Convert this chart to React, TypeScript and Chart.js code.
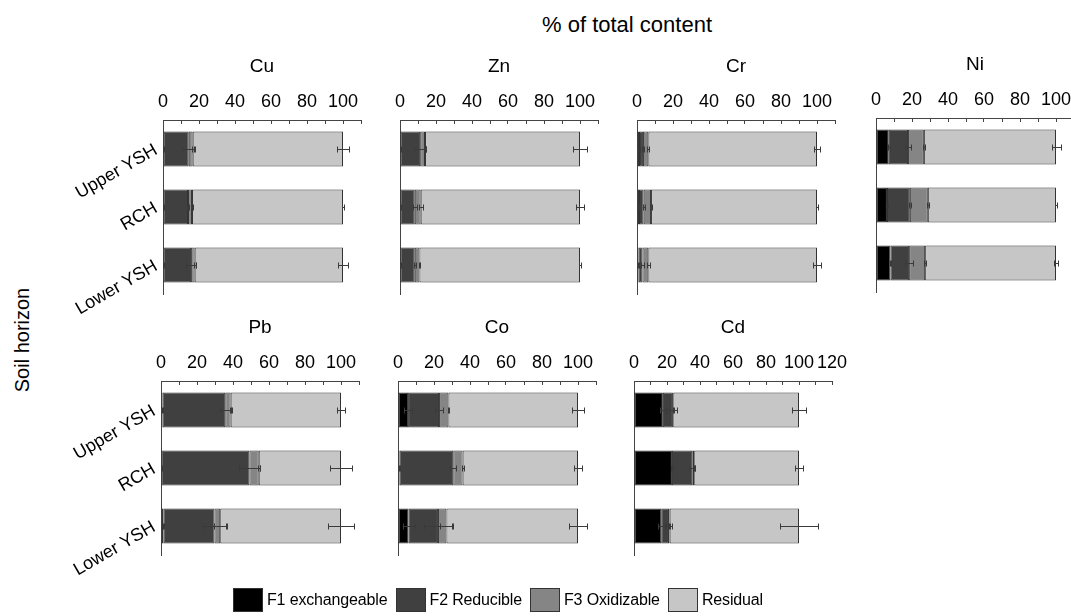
import React, { useEffect, useRef } from "react";
import { Chart, registerables } from "chart.js";

Chart.register(...registerables);

// ---------------- DATA ----------------
const horizons = ["Upper YSH", "RCH", "Lower YSH"];
const fractionLabels = ["F1 exchangeable", "F2 Reducible", "F3 Oxidizable", "Residual"];
const fractionColors = ["#000000", "#404040", "#858585", "#c6c6c6"];

const ticks0to100 = [0, 20, 40, 60, 80, 100];
const ticks0to120 = [0, 20, 40, 60, 80, 100, 120];

// each array: [F1, F2, F3, Residual], each over horizons [Upper YSH, RCH, Lower YSH]
const cuValues = [[0.3, 0.2, 0.3], [14.0, 13.7, 15.3], [2.2, 2.2, 2.0], [83.5, 83.9, 82.4]];
const cuErrors = [[0.2, 0.1, 0.2], [3.5, 0.6, 3.0], [0.6, 0.3, 0.5], [3.5, 0.5, 3.0]];

const znValues = [[0.2, 0.2, 0.2], [11.0, 8.0, 8.0], [2.7, 3.3, 2.6], [86.1, 88.5, 89.2]];
const znErrors = [[0.1, 0.1, 0.1], [3.5, 1.0, 0.5], [0.5, 1.2, 0.3], [4.0, 2.3, 0.5]];

const crValues = [[1.1, 1.1, 0.9], [2.2, 2.6, 2.1], [3.0, 4.1, 3.3], [93.7, 92.2, 93.7]];
const crErrors = [[0.3, 0.2, 0.3], [0.5, 0.5, 1.0], [0.5, 0.4, 1.0], [1.5, 0.5, 2.2]];

const niValues = [[7.1, 6.1, 8.0], [10.7, 12.7, 10.4], [8.8, 10.0, 8.9], [73.4, 71.2, 72.7]];
const niErrors = [[0.5, 0.4, 0.5], [1.9, 0.4, 2.1], [0.5, 0.6, 0.4], [2.5, 0.5, 1.0]];

const pbValues = [[0.9, 0.2, 1.3], [34.8, 48.9, 28.4], [3.0, 5.2, 3.2], [61.3, 45.7, 67.1]];
const pbErrors = [[0.3, 0.1, 0.4], [3.0, 6.0, 6.5], [0.6, 0.5, 3.5], [2.3, 6.2, 7.0]];

const coValues = [[5.6, 0.9, 5.9], [17.2, 29.8, 16.3], [5.2, 5.2, 4.7], [72.0, 64.1, 73.1]];
const coErrors = [[2.0, 0.2, 3.3], [2.4, 1.7, 8.0], [0.5, 0.5, 3.5], [3.4, 2.0, 4.9]];

const cdValues = [[17.5, 23.0, 16.5], [6.1, 12.3, 4.7], [0.2, 1.2, 0.4], [76.2, 63.5, 78.4]];
const cdErrors = [[2.0, 0.5, 2.0], [2.3, 1.8, 1.8], [0.2, 0.3, 0.3], [4.0, 2.4, 11.6]];

// ---------------- LAYOUT ----------------
const FONT = '"Liberation Sans", Arial, Helvetica, sans-serif';
const PLOT_W = 198;
const PLOT_H = 174;
const X_AXIS_H = 65;
const PAD_RIGHT = 30;
const PAD_BOTTOM = 45;

type PanelDef = {
  name: string;
  values: number[][];
  errors: number[][];
  max: number;
  tickLabels: number[];
  plotLeft: number;
  axisY: number;
  showY: boolean;
};

const panels: PanelDef[] = [
  { name: "Cu", values: cuValues, errors: cuErrors, max: 110, tickLabels: ticks0to100, plotLeft: 163, axisY: 120, showY: true },
  { name: "Zn", values: znValues, errors: znErrors, max: 110, tickLabels: ticks0to100, plotLeft: 400, axisY: 120, showY: false },
  { name: "Cr", values: crValues, errors: crErrors, max: 110, tickLabels: ticks0to100, plotLeft: 637, axisY: 120, showY: false },
  { name: "Ni", values: niValues, errors: niErrors, max: 110, tickLabels: ticks0to100, plotLeft: 876, axisY: 118, showY: false },
  { name: "Pb", values: pbValues, errors: pbErrors, max: 110, tickLabels: ticks0to100, plotLeft: 161, axisY: 381, showY: true },
  { name: "Co", values: coValues, errors: coErrors, max: 110, tickLabels: ticks0to100, plotLeft: 398, axisY: 381, showY: false },
  { name: "Cd", values: cdValues, errors: cdErrors, max: 120, tickLabels: ticks0to120, plotLeft: 634, axisY: 381, showY: false },
];

function makeErrorBarPlugin(errors: number[][]) {
  return {
    id: "errorBars",
    afterDatasetsDraw(chart: any) {
      const { ctx } = chart;
      const xs = chart.scales.x;
      const ys = chart.scales.y;
      const datasets = chart.data.datasets;
      ctx.save();
      ctx.strokeStyle = "#3a3a3a";
      ctx.lineWidth = 1;
      const cap = 3;
      for (let j = 0; j < horizons.length; j++) {
        let cum = 0;
        for (let i = 0; i < datasets.length; i++) {
          cum += datasets[i].data[j] as number;
          const e = errors[i][j];
          const yc = Math.round(ys.getPixelForValue(j)) + 0.5;
          const x1 = Math.round(xs.getPixelForValue(cum - e)) + 0.5;
          const x2 = Math.round(xs.getPixelForValue(cum + e)) + 0.5;
          ctx.beginPath();
          ctx.moveTo(x1, yc);
          ctx.lineTo(x2, yc);
          ctx.moveTo(x1, yc - cap);
          ctx.lineTo(x1, yc + cap);
          ctx.moveTo(x2, yc - cap);
          ctx.lineTo(x2, yc + cap);
          ctx.stroke();
        }
      }
      ctx.restore();
    },
  };
}

function Panel({ p }: { p: PanelDef }) {
  const ref = useRef<HTMLCanvasElement | null>(null);
  const yW = p.showY ? 110 : 20;
  const width = yW + PLOT_W + PAD_RIGHT;
  const height = X_AXIS_H + PLOT_H + PAD_BOTTOM;

  useEffect(() => {
    if (!ref.current) return;
    const chart = new Chart(ref.current, {
      type: "bar",
      data: {
        labels: horizons,
        datasets: fractionLabels.map((lab, i) => ({
          label: lab,
          data: p.values[i],
          backgroundColor: fractionColors[i],
          borderColor: "#333333",
          borderWidth: 1,
          borderSkipped: false,
          barPercentage: 0.6,
          categoryPercentage: 1,
        })),
      },
      options: {
        indexAxis: "y",
        responsive: false,
        animation: false,
        devicePixelRatio: 1,
        layout: { padding: { left: 0, top: 0, right: PAD_RIGHT, bottom: PAD_BOTTOM } },
        plugins: {
          legend: { display: false },
          tooltip: { enabled: false },
          title: { display: false },
        },
        scales: {
          x: {
            type: "linear",
            position: "top",
            stacked: true,
            min: 0,
            max: p.max,
            ticks: {
              stepSize: 10,
              autoSkip: false,
              maxRotation: 0,
              minRotation: 0,
              padding: 11,
              color: "#000",
              font: { family: FONT, size: 18 },
              callback: (v: any) => (p.tickLabels.includes(Number(v)) ? String(v) : ""),
            },
            grid: {
              drawOnChartArea: false,
              drawTicks: true,
              tickLength: -4,
              color: "#444",
              lineWidth: 1,
            },
            border: { display: true, color: "#444", width: 1 },
            title: {
              display: true,
              text: p.name,
              color: "#000",
              font: { family: FONT, size: 19 },
              padding: { top: 0, bottom: 0 },
            },
            afterFit: (s: any) => {
              s.height = X_AXIS_H;
            },
          },
          y: {
            type: "category",
            position: "left",
            stacked: true,
            offset: true,
            ticks: {
              display: p.showY,
              minRotation: 30,
              maxRotation: 30,
              padding: 7,
              color: "#000",
              font: { family: FONT, size: 18 },
            },
            grid: { display: true, drawOnChartArea: false, drawTicks: false },
            border: { display: true, color: "#444", width: 1 },
            afterFit: (s: any) => {
              s.width = yW;
            },
          },
        },
      } as any,
      plugins: [makeErrorBarPlugin(p.errors)],
    });
    return () => chart.destroy();
  }, []);

  return (
    <canvas
      ref={ref}
      width={width}
      height={height}
      style={{
        position: "absolute",
        left: p.plotLeft - yW,
        top: p.axisY - X_AXIS_H,
        width,
        height,
      }}
    />
  );
}

export default function App() {
  return (
    <div
      style={{
        position: "absolute",
        left: 0,
        top: 0,
        width: 1071,
        height: 616,
        overflow: "hidden",
        background: "#fff",
        fontFamily: FONT,
        color: "#000",
      }}
    >
      <div
        style={{
          position: "absolute",
          left: 627,
          top: 25,
          transform: "translate(-50%, -50%)",
          whiteSpace: "nowrap",
          fontSize: 22,
          lineHeight: 1,
        }}
      >
        % of total content
      </div>
      <div
        style={{
          position: "absolute",
          left: 22,
          top: 340,
          transform: "translate(-50%, -50%) rotate(-90deg)",
          whiteSpace: "nowrap",
          fontSize: 20,
          lineHeight: 1,
        }}
      >
        Soil horizon
      </div>
      {panels.map((p) => (
        <Panel key={p.name} p={p} />
      ))}
      <div
        style={{
          position: "absolute",
          left: 233,
          top: 588,
          display: "flex",
          alignItems: "center",
          whiteSpace: "nowrap",
          fontSize: 16,
          letterSpacing: "-0.15px",
          lineHeight: 1,
        }}
      >
        {fractionLabels.map((lab, i) => (
          <div key={lab} style={{ display: "flex", alignItems: "center", marginRight: 8 }}>
            <div
              style={{
                width: 30,
                height: 24,
                boxSizing: "border-box",
                background: fractionColors[i],
                border: "1px solid #333",
                marginRight: 4,
              }}
            />
            <span>{lab}</span>
          </div>
        ))}
      </div>
    </div>
  );
}
